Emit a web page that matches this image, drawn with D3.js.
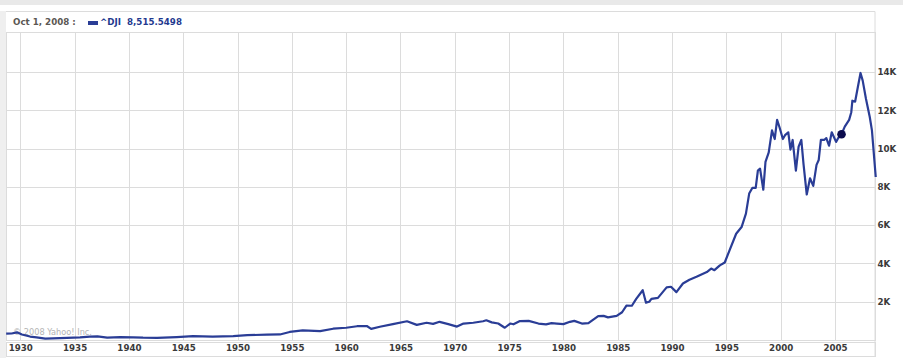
<!DOCTYPE html>
<html>
<head>
<meta charset="utf-8">
<script src="https://cdn.jsdelivr.net/npm/d3@7"></script>
<style>
  html, body { margin: 0; padding: 0; background: #fff; }
  svg { display: block; font-family: "DejaVu Sans", Verdana, sans-serif; }
</style>
</head>
<body>
<div id="root"></div>
<script>
// ^DJI closing levels (decimal years)
const years = [
  1928.7, 1929.2, 1929.7, 1930.15, 1930.9, 1931.5, 1932.3, 1933.0, 1934.3, 1935.5,
  1936.4, 1937.1, 1938.0, 1939.2, 1940.4, 1941.3, 1942.6, 1944.4, 1945.9, 1947.7,
  1949.6, 1950.9, 1952.7, 1953.9, 1954.8, 1956.0, 1957.6, 1958.8, 1960.0, 1961.0,
  1961.9, 1962.3, 1963.1, 1964.3, 1965.6, 1966.5, 1967.4, 1968.0, 1968.6, 1969.4,
  1970.2, 1970.8, 1971.7, 1972.6, 1972.9, 1973.4, 1974.0, 1974.6, 1975.1, 1975.4,
  1976.0, 1976.8, 1977.7, 1978.4, 1978.9, 1979.4, 1980.0, 1980.6, 1981.0, 1981.7,
  1982.3, 1983.2, 1983.7, 1984.1, 1984.9, 1985.4, 1985.8, 1986.3, 1986.7, 1987.3,
  1987.6, 1987.9, 1988.1, 1988.7, 1989.5, 1989.9, 1990.4, 1991.0, 1991.6, 1992.25,
  1993.2, 1993.6, 1993.9, 1994.4, 1994.85, 1995.3, 1995.9, 1996.4, 1996.8, 1997.1,
  1997.4, 1997.7, 1997.9, 1998.1, 1998.4, 1998.6, 1998.9, 1999.2, 1999.45, 1999.67,
  1999.9, 2000.2, 2000.4, 2000.7, 2000.9, 2001.1, 2001.4, 2001.65, 2001.9, 2002.1,
  2002.4, 2002.7, 2003.0, 2003.3, 2003.5, 2003.7, 2004.0, 2004.2, 2004.45, 2004.7,
  2005.1, 2005.3, 2005.6, 2005.9, 2006.3, 2006.5, 2006.6, 2006.85, 2007.1, 2007.35,
  2007.55, 2007.85, 2008.2, 2008.4, 2008.75
];
const values = [
  330, 340, 400, 290, 180, 140, 70, 80, 110, 140,
  180, 190, 120, 150, 140, 120, 110, 150, 200, 180,
  200, 250, 280, 290, 420, 500, 460, 590, 640, 720,
  730, 580, 690, 830, 980, 790, 900, 840, 950, 830,
  700, 860, 900, 980, 1030, 920, 860, 640, 860, 820,
  990, 1000, 860, 820, 880, 860, 830, 950, 1000, 860,
  880, 1250, 1260, 1180, 1260, 1450, 1800, 1790, 2150, 2600,
  1950, 2000, 2150, 2200, 2750, 2780, 2500, 2950, 3150, 3300,
  3550, 3730, 3650, 3900, 4050, 4700, 5550, 5900, 6600, 7650,
  7950, 7950, 8850, 8950, 7850, 9300, 9800, 10950, 10500, 11500,
  11100, 10500, 10700, 10850, 9950, 10450, 8850, 10100, 10450, 9200,
  7600, 8450, 8050, 9150, 9400, 10450, 10450, 10550, 10150, 10850,
  10350, 10550, 10750, 11150, 11500, 11900, 12500, 12450, 13200, 13950,
  13550, 12600, 11650, 10950, 8515.5498
];
const xTickYears = [1930, 1935, 1940, 1945, 1950, 1955, 1960, 1965, 1970, 1975, 1980, 1985, 1990, 1995, 2000, 2005];
const yTickValues = [2000, 4000, 6000, 8000, 10000, 12000, 14000];
const marker = { year: 2005.6, value: 10750 };
const headerDate = "Oct 1, 2008 :";
const headerSeries = "^DJI";
const headerValue = "8,515.5498";
const credit = "\u00a9 2008 Yahoo! Inc.";

function Chart(rootElementId, options) {
  const { width, height, plot } = options;

  const svg = d3.select(`#${rootElementId}`)
    .append("svg")
    .attr("width", width)
    .attr("height", height)
    .attr("viewBox", [0, 0, width, height]);

  // frame: grey strip on top and left
  svg.append("rect").attr("x", 0).attr("y", 0).attr("width", width).attr("height", 5).attr("fill", "#e9e9e9");
  svg.append("rect").attr("x", 0).attr("y", 11).attr("width", plot.left).attr("height", height - 11).attr("fill", "#efefef");

  // header box
  svg.append("path")
    .attr("d", `M${plot.left},11.5H${plot.right}V${height - 2}`)
    .attr("fill", "none").attr("stroke", "#dcdcdc");

  svg.append("text")
    .attr("x", 13).attr("y", 25)
    .attr("font-size", 8.7).attr("font-weight", "bold").attr("fill", "#5b5753")
    .text(headerDate);
  svg.append("rect")
    .attr("x", 88).attr("y", 21).attr("width", 10).attr("height", 4)
    .attr("fill", "#2a3d96");
  svg.append("text")
    .attr("x", 100).attr("y", 25)
    .attr("font-size", 8.7).attr("font-weight", "bold").attr("fill", "#1f3a8f")
    .attr("xml:space", "preserve")
    .text(`${headerSeries}  ${headerValue}`);

  // scales: 1930 and 2005 gridlines sit at fixed pixels in the original
  const xScale = d3.scaleLinear()
    .domain([1930, 2005])
    .range([20.3, 835]);

  const yScale = d3.scaleLinear()
    .domain([0, 16090])
    .range([plot.bottom, plot.top]);

  const grid = svg.append("g").attr("stroke", "#dcdcdc").attr("shape-rendering", "crispEdges");

  grid.selectAll(".vx").data(xTickYears).enter().append("line")
    .attr("x1", (d) => Math.round(xScale(d)) + 0.5).attr("x2", (d) => Math.round(xScale(d)) + 0.5)
    .attr("y1", plot.top).attr("y2", plot.bottom);

  grid.selectAll(".hy").data(yTickValues).enter().append("line")
    .attr("x1", plot.left).attr("x2", plot.right)
    .attr("y1", (d) => Math.round(yScale(d)) + 0.5).attr("y2", (d) => Math.round(yScale(d)) + 0.5);

  grid.append("rect")
    .attr("x", plot.left + 0.5).attr("y", plot.top + 0.5)
    .attr("width", plot.right - plot.left).attr("height", plot.bottom - plot.top)
    .attr("fill", "none");

  // x label box
  grid.append("rect")
    .attr("x", plot.left + 0.5).attr("y", plot.bottom + 2.5)
    .attr("width", plot.right - plot.left).attr("height", 14)
    .attr("fill", "none");

  // x axis labels
  const xAxis = svg.append("g")
    .attr("transform", `translate(0, ${plot.bottom + 3})`)
    .call(d3.axisBottom(xScale).tickValues(xTickYears).tickFormat(d3.format("d")).tickSize(0).tickPadding(1.5));
  xAxis.select(".domain").remove();
  xAxis.selectAll("text")
    .attr("font-family", "DejaVu Sans, Verdana, sans-serif")
    .attr("font-size", 8.7).attr("font-weight", "bold").attr("fill", "#3a3a3a");

  // y axis labels on the right
  const yAxis = svg.append("g")
    .attr("transform", `translate(${plot.right}, 0)`)
    .call(d3.axisRight(yScale).tickValues(yTickValues).tickFormat((d) => `${d / 1000}K`).tickSize(0).tickPadding(2.5));
  yAxis.select(".domain").remove();
  yAxis.selectAll("text")
    .attr("font-family", "DejaVu Sans, Verdana, sans-serif")
    .attr("font-size", 8.7).attr("font-weight", "bold").attr("fill", "#3a3a3a");

  // credit
  svg.append("text")
    .attr("x", 13).attr("y", 335)
    .attr("font-size", 8.2).attr("fill", "#b4b4b4")
    .text(credit);

  // the line
  const data = years.map((y, i) => ({ year: y, value: values[i] }));
  const line = d3.line()
    .x((d) => xScale(d.year))
    .y((d) => yScale(d.value));

  svg.append("path")
    .datum(data)
    .attr("fill", "none")
    .attr("stroke", "#2a3d96")
    .attr("stroke-width", 2.2)
    .attr("stroke-linejoin", "round")
    .attr("d", line);

  svg.append("circle")
    .attr("cx", xScale(marker.year))
    .attr("cy", yScale(marker.value))
    .attr("r", 4.3)
    .attr("fill", "#0b0b4d");
}

const width = 903,
  height = 358;
const plot = { left: 6, right: 875, top: 32, bottom: 340 };

Chart("root", { width, height, plot });
</script>
</body>
</html>
